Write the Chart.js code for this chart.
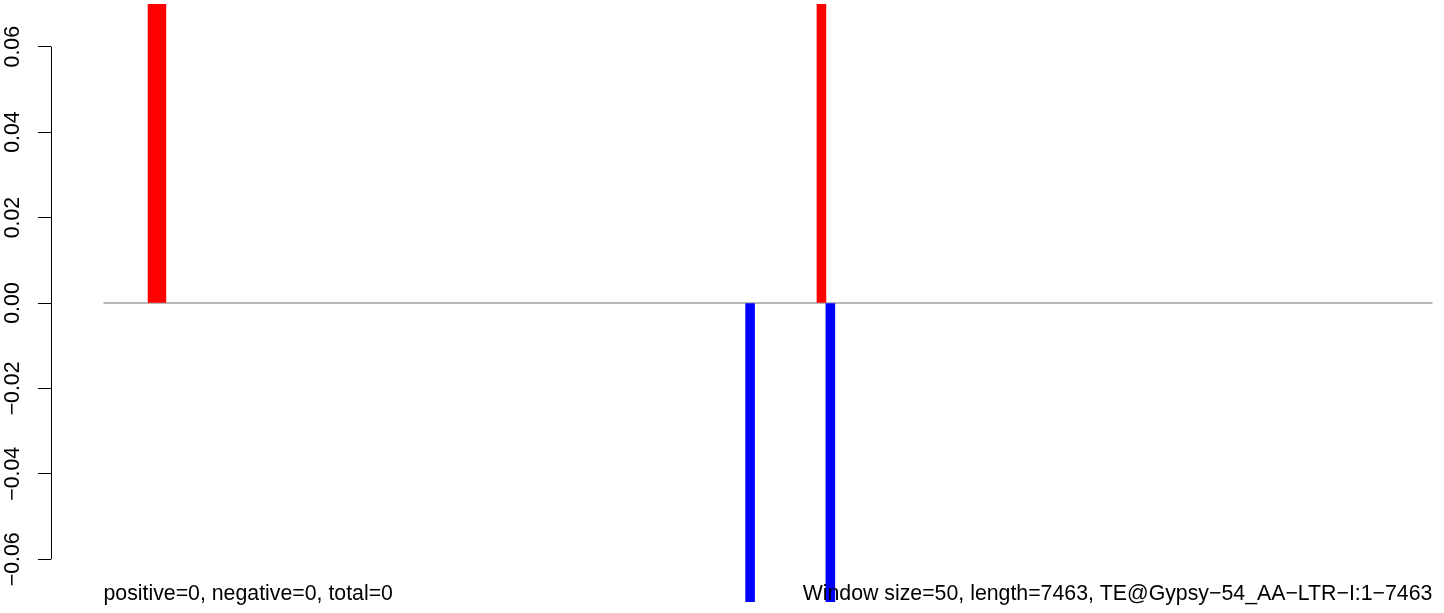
<!DOCTYPE html>
<html>
<head>
<meta charset="utf-8">
<script src="https://cdn.jsdelivr.net/npm/chart.js@4/dist/chart.umd.min.js"></script>
<style>
  html, body { margin: 0; padding: 0; background: #fff; overflow: hidden; }
  canvas { display: block; }
</style>
</head>
<body>
<canvas id="myChart" width="1444" height="613"></canvas>
<script>
// window centres (bp) and values for each strand
var posWindows = [275, 325, 4025];
var posValues = [0.1, 0.1, 0.1];
var negWindows = [3625, 4075];
var negValues = [-0.1, -0.1];

// zero line from the first to the last window start
var baseX = [0, 7450];
var baseY = [0, 0];

var yTicks = [-0.06, -0.04, -0.02, 0, 0.02, 0.04, 0.06];
var yTickLabels = ['\u22120.06', '\u22120.04', '\u22120.02', '0.00', '0.02', '0.04', '0.06'];

var leftNote = 'positive=0, negative=0, total=0';
var rightNote = 'Window size=50, length=7463, TE@Gypsy\u221254_AA\u2212LTR\u2212I:1\u22127463';

var FONT = '21.3px "Liberation Sans", Arial, sans-serif';

function pts(xs, ys) {
  var out = [];
  for (var i = 0; i < xs.length; i++) out.push({x: xs[i], y: ys[i]});
  return out;
}

// R-style y axis: line only between outer ticks, rotated labels
var rAxis = {
  id: 'rAxis',
  afterDraw: function(chart) {
    var ctx = chart.ctx;
    var ys = chart.scales.y;
    var x0 = chart.chartArea.left;
    ctx.save();
    ctx.strokeStyle = '#000';
    ctx.lineWidth = 1;
    ctx.beginPath();
    ctx.moveTo(x0 + 0.5, ys.getPixelForValue(yTicks[yTicks.length - 1]));
    ctx.lineTo(x0 + 0.5, ys.getPixelForValue(yTicks[0]));
    ctx.stroke();
    ctx.fillStyle = '#000';
    ctx.font = FONT;
    ctx.textAlign = 'center';
    ctx.textBaseline = 'middle';
    for (var i = 0; i < yTicks.length; i++) {
      ctx.save();
      ctx.translate(13, ys.getPixelForValue(yTicks[i]));
      ctx.rotate(-Math.PI / 2);
      ctx.fillText(yTickLabels[i], 0, 0);
      ctx.restore();
    }
    // notes at the bottom of the plot
    var xs = chart.scales.x;
    var yText = ys.getPixelForValue(-0.0682);
    ctx.textAlign = 'left';
    ctx.fillText(leftNote, xs.getPixelForValue(baseX[0]), yText);
    ctx.textAlign = 'right';
    ctx.fillText(rightNote, xs.getPixelForValue(baseX[1]), yText);
    ctx.restore();
  }
};

var ctx = document.getElementById('myChart').getContext('2d');
var myChart = new Chart(ctx, {
  type: 'bar',
  data: {
    datasets: [
      {
        type: 'line',
        data: pts(baseX, baseY),
        borderColor: '#6e6e6e',
        borderWidth: 1.2,
        pointRadius: 0,
        order: 3
      },
      {
        label: 'positive',
        data: pts(posWindows, posValues),
        backgroundColor: '#ff0000',
        grouped: false,
        barPercentage: 1,
        categoryPercentage: 1,
        order: 1
      },
      {
        label: 'negative',
        data: pts(negWindows, negValues),
        backgroundColor: '#0000ff',
        grouped: false,
        barPercentage: 1,
        categoryPercentage: 1,
        order: 2
      }
    ]
  },
  options: {
    responsive: false,
    animation: false,
    layout: { padding: { left: 0, right: 0, top: 4, bottom: 11 } },
    plugins: { legend: { display: false }, tooltip: { enabled: false } },
    scales: {
      x: {
        type: 'linear',
        min: -294,
        max: 7515,
        offset: false,
        display: false
      },
      y: {
        min: -0.07,
        max: 0.07,
        afterBuildTicks: function(scale) {
          scale.ticks = yTicks.map(function(v) { return {value: v}; });
        },
        afterFit: function(scale) { scale.width = 51; },
        ticks: { display: false },
        grid: {
          drawOnChartArea: false,
          drawTicks: true,
          tickLength: 13,
          color: '#000',
          lineWidth: 1
        },
        border: { display: false }
      }
    }
  },
  plugins: [rAxis]
});
</script>
</body>
</html>
